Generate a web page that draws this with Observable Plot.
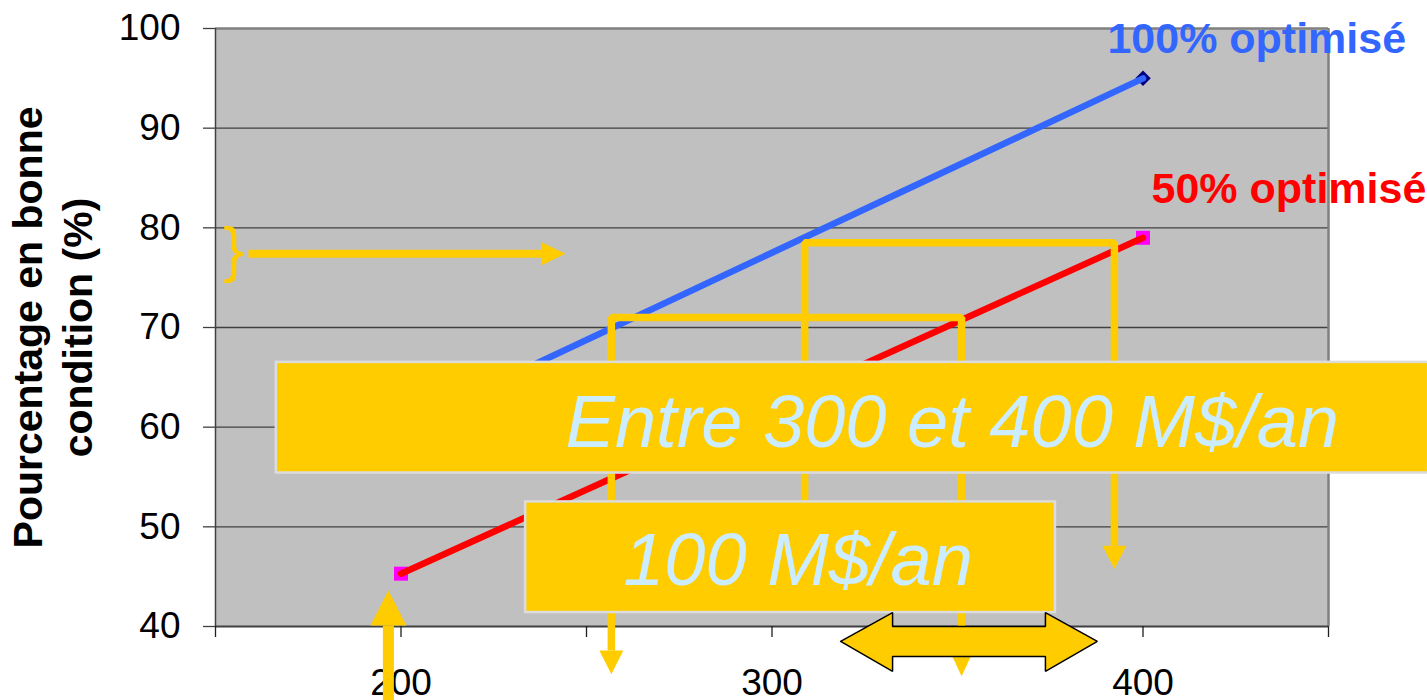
<!DOCTYPE html>
<html><head><meta charset="utf-8">
<script src="https://cdn.jsdelivr.net/npm/d3@7"></script>
<script src="https://cdn.jsdelivr.net/npm/@observablehq/plot@0.6"></script>
<style>
html,body{margin:0;padding:0;background:#fff;}
#chart svg{display:block;}
</style>
</head><body><div id="chart"></div>
<script>
// ---- Chart data ----
const budget = [200, 400];               // M$/an
const optimise100 = [60, 95];            // % en bonne condition, 100% optimisé
const optimise50 = [45.3, 79];           // % en bonne condition, 50% optimisé
const seriesLabels = ["100% optimisé", "50% optimisé"];
const xTicks = [150, 200, 250, 300, 350, 400, 450];
const yTicks = [40, 50, 60, 70, 80, 90, 100];
const gridValues = [50, 60, 70, 80, 90];
const boxTexts = ["Entre 300 et 400 M$/an", "100 M$/an"];
const yTitle = ["Pourcentage en bonne", "condition (%)"];

// ---- Annotation geometry (in data units) ----
const pathA = [[256.7, 37.6], [256.7, 71.0], [351.1, 71.0], [351.1, 37.6]];
const pathB = [[308.8, 42.6], [308.8, 78.5], [392.3, 78.5], [392.3, 48.1]];
const braceArrow = [[158.9, 77.4], [237.9, 77.4]];
const upShaft = [[196.6, 32.6], [196.6, 40.1]];
// down heads: [x, yBase, yTip, halfWidth]
const downHeads = [[256.7, 37.6, 35.2, 3.23], [351.1, 37.6, 35.0, 3.23], [392.3, 48.1, 45.8, 3.23]];
// up head: [x, yBase, yTip, halfWidth]
const upHead = [196.6, 40.1, 43.6, 4.85];
// right head: [xBase, xTip, y, halfHeight]
const rightHead = [237.9, 244.3, 77.4, 1.15];
const doubleArrow = [[318.5, 38.5], [332.5, 41.4], [332.5, 40.0], [373.7, 40.0], [373.7, 41.4], [387.7, 38.5],
                     [373.7, 35.5], [373.7, 37.0], [332.5, 37.0], [332.5, 35.5], [318.5, 38.5]];
const boxes = [{x1: 166.4, x2: 477, y1: 55.4, y2: 66.5}, {x1: 233.6, x2: 376.4, y1: 41.4, y2: 52.5}];
const boxTextPos = [[348.6, 60.4], [307.0, 46.5]];
const seriesLabelPos = [[390.4, 98.9], [402.3, 83.9]];
const bracePos = [154.9, 77.75];

// ---- Build tables ----
const blue = budget.map((b, i) => ({x: b, y: optimise100[i]}));
const red = budget.map((b, i) => ({x: b, y: optimise50[i]}));
const pts = (arr, id) => arr.map(([x, y]) => ({x, y, id}));
const tri = [];
downHeads.forEach(([x, yb, yt, hw], i) => {
  tri.push({x: x - hw, y: yb, id: "d" + i}, {x: x + hw, y: yb, id: "d" + i}, {x, y: yt, id: "d" + i});
});
tri.push({x: upHead[0] - upHead[3], y: upHead[1], id: "u"}, {x: upHead[0] + upHead[3], y: upHead[1], id: "u"}, {x: upHead[0], y: upHead[2], id: "u"});
tri.push({x: rightHead[0], y: rightHead[2] + rightHead[3], id: "r"}, {x: rightHead[0], y: rightHead[2] - rightHead[3], id: "r"}, {x: rightHead[1], y: rightHead[2], id: "r"});

const YEL = "#ffcc00";
const FONT = "'Liberation Sans', Arial, Helvetica, sans-serif";

const chart = Plot.plot({
  width: 1427, height: 700,
  marginLeft: 215, marginRight: 99, marginTop: 28, marginBottom: 74,
  x: {domain: [150, 450], axis: null},
  y: {domain: [40, 100], axis: null},
  style: {fontFamily: FONT, background: "white", overflow: "visible"},
  marks: [
    Plot.frame({fill: "#c0c0c0", stroke: "none"}),
    Plot.ruleY(gridValues, {stroke: "#404040", strokeWidth: 1.3}),
    Plot.ruleY([100], {stroke: "#808080", strokeWidth: 2.5}),
    Plot.ruleX([450], {stroke: "#808080", strokeWidth: 2.5}),
    Plot.ruleX([150], {stroke: "#404040", strokeWidth: 1.5}),
    Plot.ruleY([40], {stroke: "#404040", strokeWidth: 2}),
    Plot.axisY({ticks: yTicks, tickSize: 12, tickPadding: 23, fontSize: 37, stroke: "#404040", strokeWidth: 1.3, label: null, tickFormat: d => String(d)}),
    Plot.axisX({ticks: xTicks, tickSize: 11, tickPadding: 31, fontSize: 37, stroke: "#202020", strokeWidth: 1.3, label: null, tickFormat: d => d % 100 === 0 ? String(d) : ""}),
    // series markers then lines
    Plot.dot(red, {x: "x", y: "y", symbol: "square", r: 7.9, fill: "#ff00ff", stroke: "none"}),
    Plot.dot(blue, {x: "x", y: "y", symbol: "diamond2", r: 7, fill: "#000080", stroke: "none"}),
    Plot.line(blue, {x: "x", y: "y", stroke: "#3366ff", strokeWidth: 6.5, strokeLinecap: "round"}),
    Plot.line(red, {x: "x", y: "y", stroke: "#ff0000", strokeWidth: 6.5, strokeLinecap: "round"}),
    // series labels
    Plot.text([0], {x: seriesLabelPos[0][0], y: seriesLabelPos[0][1], text: [seriesLabels[0]], textAnchor: "start", fontSize: 43, fontWeight: "bold", fill: "#3366ff"}),
    Plot.text([0], {x: seriesLabelPos[1][0], y: seriesLabelPos[1][1], text: [seriesLabels[1]], textAnchor: "start", fontSize: 43, fontWeight: "bold", fill: "#ff0000"}),
    // yellow annotation paths
    Plot.line(pts(pathA, "A"), {x: "x", y: "y", stroke: YEL, strokeWidth: 7.5, strokeLinejoin: "miter", strokeLinecap: "butt"}),
    Plot.line(pts(pathB, "B"), {x: "x", y: "y", stroke: YEL, strokeWidth: 7.5, strokeLinejoin: "miter", strokeLinecap: "butt"}),
    Plot.line(pts(braceArrow, "C"), {x: "x", y: "y", stroke: YEL, strokeWidth: 8, strokeLinecap: "butt"}),
    Plot.line(pts(upShaft, "U"), {x: "x", y: "y", stroke: YEL, strokeWidth: 11, strokeLinecap: "butt"}),
    Plot.line(tri, {x: "x", y: "y", z: "id", fill: YEL, stroke: "none"}),
    Plot.text([0], {x: bracePos[0], y: bracePos[1], text: ["}"], fontSize: 62, fill: YEL}),
    // boxes
    Plot.rect(boxes, {x1: "x1", x2: "x2", y1: "y1", y2: "y2", fill: YEL, stroke: "#dcdcdc", strokeWidth: 2.5}),
    Plot.text(boxTexts, {x: (d, i) => boxTextPos[i][0], y: (d, i) => boxTextPos[i][1], text: d => d, fontSize: 74, fontStyle: "italic", fill: "#ccecff"}),
    // double arrow
    Plot.line(pts(doubleArrow, "DA"), {x: "x", y: "y", fill: YEL, stroke: "#000", strokeWidth: 1.5, strokeLinejoin: "miter"}),
    // y title
    Plot.text([0], {x: 150, y: 70, text: [yTitle[0]], rotate: -90, dx: -187, fontSize: 41, fontWeight: "bold", fill: "#000"}),
    Plot.text([0], {x: 150, y: 70, text: [yTitle[1]], rotate: -90, dx: -137, fontSize: 41, fontWeight: "bold", fill: "#000"})
  ]
});
document.getElementById("chart").appendChild(chart);
</script>
</body></html>
